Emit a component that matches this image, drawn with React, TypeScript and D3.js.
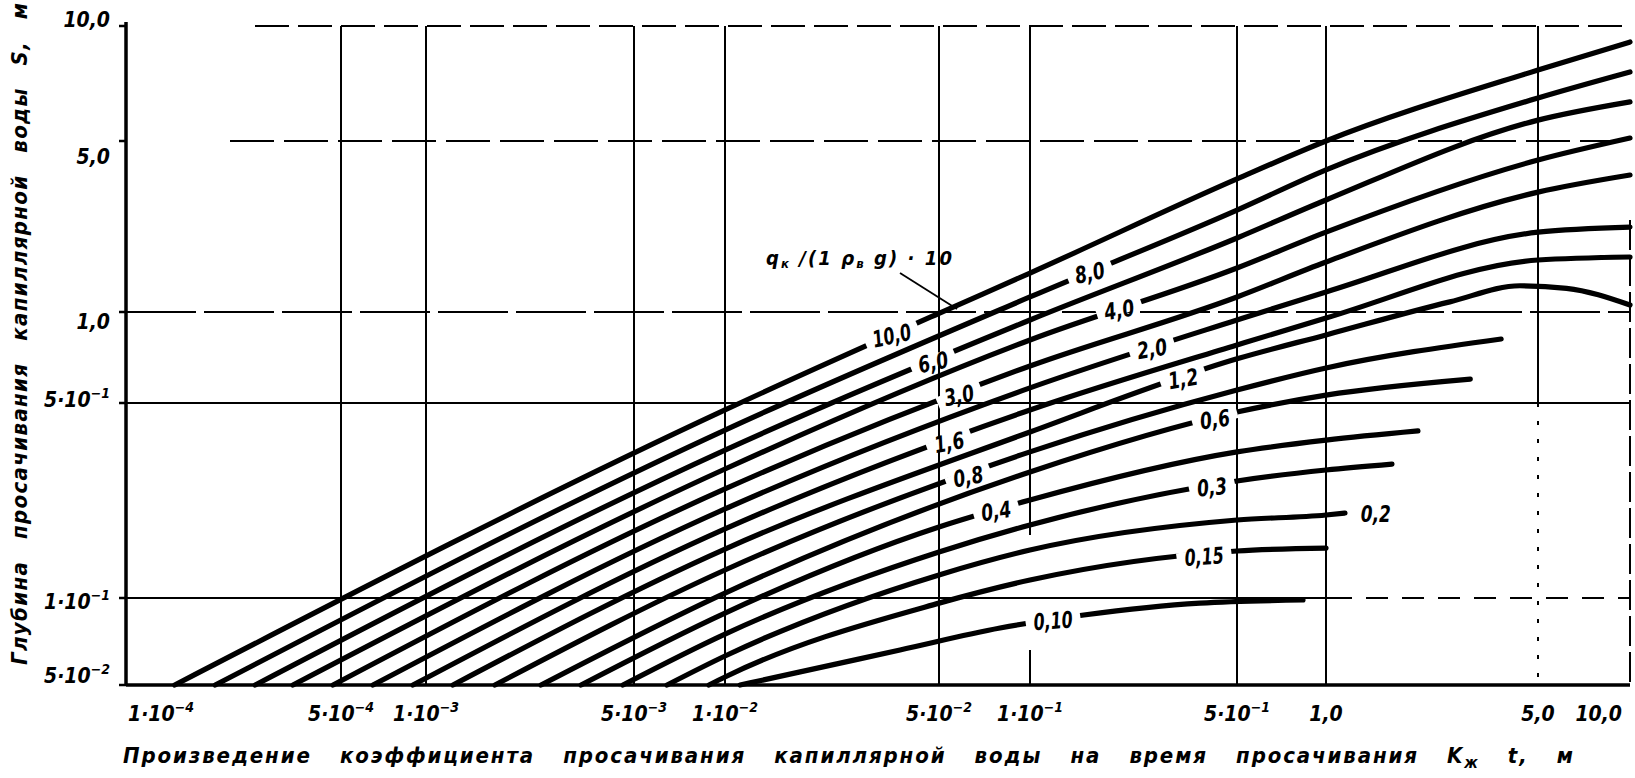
import React, { useLayoutEffect, useRef } from "react";
import * as d3 from "d3";

// ---------- axis ticks ----------
const xTickValues = [1e-4, 5e-4, 1e-3, 5e-3, 1e-2, 5e-2, 1e-1, 5e-1, 1, 5, 10];
const xTickMantissa = ["1·10", "5·10", "1·10", "5·10", "1·10", "5·10", "1·10", "5·10", "1,0", "5,0", "10,0"];
const xTickExponent = ["−4", "−4", "−3", "−3", "−2", "−2", "−1", "−1", "", "", ""];

const yTickValues = [0.05, 0.1, 0.5, 1, 5, 10];
const yTickMantissa = ["5·10", "1·10", "5·10", "1,0", "5,0", "10,0"];
const yTickExponent = ["−2", "−1", "−1", "", "", ""];

// ---------- curves: [K·t (m), S (m)] ----------
const curve10_0 = [[1.44e-4, 0.05], [0.01, 0.472], [0.05, 0.99], [0.1, 1.443], [0.5, 3.5], [1, 5.0], [5, 7.67], [10, 9.08]];
const curve8_0 = [[1.95e-4, 0.05], [0.01, 0.4], [0.1, 1.152], [0.5, 2.61], [1, 3.81], [5, 6.48], [10, 7.58]];
const curve6_0 = [[2.63e-4, 0.05], [0.01, 0.339], [0.1, 0.941], [0.5, 2.007], [1, 2.87], [5, 5.67], [10, 6.33]];
const curve4_0 = [[3.49e-4, 0.05], [0.01, 0.29], [0.1, 0.808], [0.5, 1.513], [1, 2.12], [5, 4.18], [10, 5.09]];
const curve3_0 = [[4.71e-4, 0.05], [0.01, 0.246], [0.1, 0.663], [0.5, 1.152], [1, 1.601], [5, 3.09], [10, 3.63]];
const curve2_0 = [[6.49e-4, 0.05], [0.01, 0.2085], [0.1, 0.561], [0.5, 0.941], [1, 1.207], [5, 2.12], [10, 2.225]];
const curve1_6 = [[8.99e-4, 0.05], [0.01, 0.1768], [0.1, 0.472], [0.5, 0.778], [1, 0.955], [5, 1.631], [10, 1.678]];
const curve1_2 = [[1.232e-3, 0.05], [0.01, 0.1498], [0.1, 0.3936], [0.5, 0.7], [1, 0.84], [2.56, 1.1], [4.36, 1.28], [6.2, 1.25], [10, 1.068]];
const curve0_8 = [[1.705e-3, 0.05], [0.01, 0.126], [0.1, 0.334], [0.5, 0.552], [1, 0.653], [3.78, 0.814]];
const curve0_6 = [[2.434e-3, 0.05], [0.01, 0.1042], [0.1, 0.283], [0.5, 0.464], [1, 0.531], [2.99, 0.6]];
const curve0_4 = [[3.318e-3, 0.05], [0.01, 0.0887], [0.05, 0.1797], [0.1, 0.2245], [0.5, 0.334], [1, 0.368], [2.01, 0.397]];
const curve0_3 = [[4.59e-3, 0.05], [0.01, 0.075], [0.05, 0.1462], [0.1, 0.1827], [0.5, 0.2627], [1, 0.2876], [1.65, 0.302]];
const curve0_2 = [[6.43e-3, 0.05], [0.01, 0.063], [0.05, 0.121], [0.1, 0.1486], [0.5, 0.1904], [1, 0.1984], [1.155, 0.2017]];
const curve0_15 = [[8.85e-3, 0.05], [0.01, 0.0533], [0.05, 0.096], [0.1, 0.116], [0.5, 0.1474], [1, 0.151]];
const curve0_10 = [[0.0112, 0.05], [0.0176, 0.0555], [0.0373, 0.0661], [0.0796, 0.0787], [0.152, 0.0873], [0.375, 0.096], [0.836, 0.0984]];

const curves = [curve10_0, curve8_0, curve6_0, curve4_0, curve3_0, curve2_0, curve1_6, curve1_2,
  curve0_8, curve0_6, curve0_4, curve0_3, curve0_2, curve0_15, curve0_10];
const curveLabels = ["10,0", "8,0", "6,0", "4,0", "3,0", "2,0", "1,6", "1,2", "0,8", "0,6", "0,4", "0,3", "0,2", "0,15", "0,10"];
const curveLabelKt = [0.035, 0.159, 0.0478, 0.2, 0.0582, 0.258, 0.054, 0.3285, 0.0624, 0.421, 0.0772, 0.4116, 1.46, 0.387, 0.1196];

const xTitleMain = "Произведение коэффициента просачивания капиллярной воды на время просачивания K";
const xTitleSub = "ж";
const xTitleEnd = " t, м";
const yTitle = "Глубина просачивания капиллярной воды S, м";

// ---------- layout ----------
const W = 1635;
const H = 778;
const X_RANGE = [126, 341, 426, 634, 725, 939, 1030, 1237, 1326, 1538, 1630];
const Y_RANGE = [685, 598, 403, 312, 141, 26];
const FONT = "'DejaVu Sans Condensed', 'DejaVu Sans', sans-serif";

const xScale = d3.scaleLog().domain(xTickValues).range(X_RANGE);
const yScale = d3.scaleLog().domain(yTickValues).range(Y_RANGE);

const lineGen = d3
  .line<number[]>()
  .x((d) => xScale(d[0]))
  .y((d) => yScale(d[1]))
  .curve(d3.curveMonotoneX);

function labelAt(curve: number[][], kt: number) {
  const pts = curve.map((d) => [xScale(d[0]), yScale(d[1])]);
  const px = xScale(kt);
  const last = pts[pts.length - 1];
  if (px >= last[0]) return { x: px, y: last[1], a: 0, outside: true };
  for (let i = 0; i < pts.length - 1; i++) {
    const [x0, y0] = pts[i];
    const [x1, y1] = pts[i + 1];
    if (px >= x0 && px <= x1) {
      const t = (px - x0) / (x1 - x0);
      const a = (Math.atan2(y1 - y0, x1 - x0) * 180) / Math.PI;
      return { x: px, y: y0 + t * (y1 - y0), a, outside: false };
    }
  }
  return { x: px, y: pts[0][1], a: 0, outside: false };
}

// horizontal grid styles (by S value)
const hGrid = [
  { v: 10, x0: 255, x1: 1630, dash: "34 9" },
  { v: 5, x0: 230, x1: 1630, dash: "44 10" },
  { v: 1, x0: 126, x1: 1630, dash: "70 8" },
  { v: 0.5, x0: 126, x1: 1630, dash: "" },
  { v: 0.1, x0: 126, x1: 1330, dash: "" },
  { v: 0.1, x0: 1330, x1: 1630, dash: "22 14" },
];
// vertical grid styles (by Kt value)
const vGrid = [
  { v: 5e-4, y0: 26, y1: 685, dash: "" },
  { v: 1e-3, y0: 26, y1: 685, dash: "" },
  { v: 5e-3, y0: 26, y1: 685, dash: "" },
  { v: 1e-2, y0: 26, y1: 685, dash: "" },
  { v: 5e-2, y0: 26, y1: 685, dash: "" },
  { v: 1e-1, y0: 26, y1: 535, dash: "" },
  { v: 1e-1, y0: 650, y1: 685, dash: "" },
  { v: 5e-1, y0: 26, y1: 685, dash: "" },
  { v: 1, y0: 26, y1: 685, dash: "" },
  { v: 5, y0: 26, y1: 403, dash: "" },
  { v: 5, y0: 403, y1: 685, dash: "4 14" },
  { v: 10, y0: 220, y1: 685, dash: "30 6" },
];
const yLabelNudge = [-9, 4, -3, 10, 16, -6];

// spread a title over a target length: part of the surplus between words, part between letters
function useSpread(ref: React.RefObject<SVGTextElement | null>, target: number) {
  useLayoutEffect(() => {
    const el = ref.current;
    if (!el) return;
    el.setAttribute("word-spacing", "0");
    el.setAttribute("letter-spacing", "0");
    const text = el.textContent || "";
    const natural = el.getComputedTextLength();
    const spaces = (text.match(/ /g) || []).length;
    const surplus = target - natural;
    if (spaces > 0 && surplus > 0) {
      el.setAttribute("word-spacing", String((0.55 * surplus) / spaces));
      el.setAttribute("letter-spacing", String((0.45 * surplus) / (text.length - 1)));
    }
  }, [target]);
}

export default function App() {
  const textStyle = { fontFamily: FONT, fontWeight: 700, fontStyle: "italic" as const };
  const xTitleRef = useRef<SVGTextElement>(null);
  const yTitleRef = useRef<SVGTextElement>(null);
  useSpread(xTitleRef, 1450);
  useSpread(yTitleRef, 662);

  return (
    <svg
      width={W}
      height={H}
      viewBox={`0 0 ${W} ${H}`}
      style={{ position: "absolute", left: 0, top: 0, background: "#fff" }}
    >
      <rect x={0} y={0} width={W} height={H} fill="#fff" />

      {/* grid */}
      {hGrid.map((g, i) => (
        <line
          key={"h" + i}
          x1={g.x0}
          x2={g.x1}
          y1={yScale(g.v)}
          y2={yScale(g.v)}
          stroke="#000"
          strokeWidth={2}
          strokeDasharray={g.dash || undefined}
        />
      ))}
      {vGrid.map((g, i) => (
        <line
          key={"v" + i}
          x1={xScale(g.v)}
          x2={xScale(g.v)}
          y1={g.y0}
          y2={g.y1}
          stroke="#000"
          strokeWidth={2}
          strokeDasharray={g.dash || undefined}
        />
      ))}

      {/* axes */}
      <line x1={xScale(1e-4)} x2={xScale(1e-4)} y1={22} y2={yScale(0.05) + 1} stroke="#000" strokeWidth={3.5} />
      <line x1={xScale(1e-4)} x2={xScale(10)} y1={yScale(0.05)} y2={yScale(0.05)} stroke="#000" strokeWidth={3.5} />
      {yTickValues.map((v, i) => (
        <line key={"yt" + i} x1={xScale(1e-4) - 7} x2={xScale(1e-4)} y1={yScale(v)} y2={yScale(v)} stroke="#000" strokeWidth={2.5} />
      ))}

      {/* curves */}
      {curves.map((c, i) => (
        <path key={"c" + i} d={lineGen(c) || ""} fill="none" stroke="#000" strokeWidth={5.2} strokeLinecap="round" strokeLinejoin="round" />
      ))}

      {/* curve labels placed in gaps of their curves */}
      {curves.map((c, i) => {
        const p = labelAt(c, curveLabelKt[i]);
        const tl = curveLabels[i].length * 9 + 3;
        const ang = p.a * 0.5;
        return (
          <g key={"cl" + i} transform={`translate(${p.x} ${p.y}) rotate(${ang})`}>
            {!p.outside && (
              <rect x={-tl / 2 - 8} y={-6} width={tl + 16} height={12} fill="#fff" transform={`rotate(${p.a - ang})`} />
            )}
            <text
              x={0}
              y={1}
              textAnchor="middle"
              dominantBaseline="central"
              fontSize={23}
              fill="#000"
              textLength={tl}
              lengthAdjust="spacingAndGlyphs"
              style={textStyle}
            >
              {curveLabels[i]}
            </text>
          </g>
        );
      })}

      {/* annotation of the curve parameter */}
      <text x={766} y={265} fontSize={20} fill="#000" style={textStyle} textLength={186} lengthAdjust="spacing">
        <tspan>q</tspan>
        <tspan fontSize={13} dy={3}>к</tspan>
        <tspan dy={-3}> /(1 </tspan>
        <tspan>ρ</tspan>
        <tspan fontSize={13} dy={3}>в</tspan>
        <tspan dy={-3}>  g) · 10</tspan>
      </text>
      <line x1={900} y1={273} x2={957} y2={309} stroke="#000" strokeWidth={1.8} />

      {/* y tick labels */}
      {yTickValues.map((v, i) => (
        <text
          key={"yl" + i}
          x={110}
          y={yScale(v) + yLabelNudge[i] + 7}
          textAnchor="end"
          fontSize={21}
          fill="#000"
          style={textStyle}
        >
          {yTickMantissa[i]}
          {yTickExponent[i] && (
            <tspan fontSize={14} dy={-9}>
              {yTickExponent[i]}
            </tspan>
          )}
        </text>
      ))}

      {/* x tick labels */}
      {xTickValues.map((v, i) => {
        const last = i === xTickValues.length - 1;
        const first = i === 0;
        return (
          <text
            key={"xl" + i}
            x={first ? xScale(v) + 2 : last ? xScale(v) - 8 : xScale(v)}
            y={721}
            textAnchor={first ? "start" : last ? "end" : "middle"}
            fontSize={21}
            fill="#000"
            style={textStyle}
          >
            {xTickMantissa[i]}
            {xTickExponent[i] && (
              <tspan fontSize={14} dy={-9}>
                {xTickExponent[i]}
              </tspan>
            )}
          </text>
        );
      })}

      {/* axis titles */}
      <text ref={xTitleRef} x={123} y={763} fontSize={22} fill="#000" style={textStyle}>
        {xTitleMain}
        <tspan fontSize={15} dy={5}>{xTitleSub}</tspan>
        <tspan dy={-5}>{xTitleEnd}</tspan>
      </text>
      <text
        ref={yTitleRef}
        x={0}
        y={0}
        transform="translate(27 665) rotate(-90)"
        fontSize={22}
        fill="#000"
        style={textStyle}
      >
        {yTitle}
      </text>
    </svg>
  );
}
